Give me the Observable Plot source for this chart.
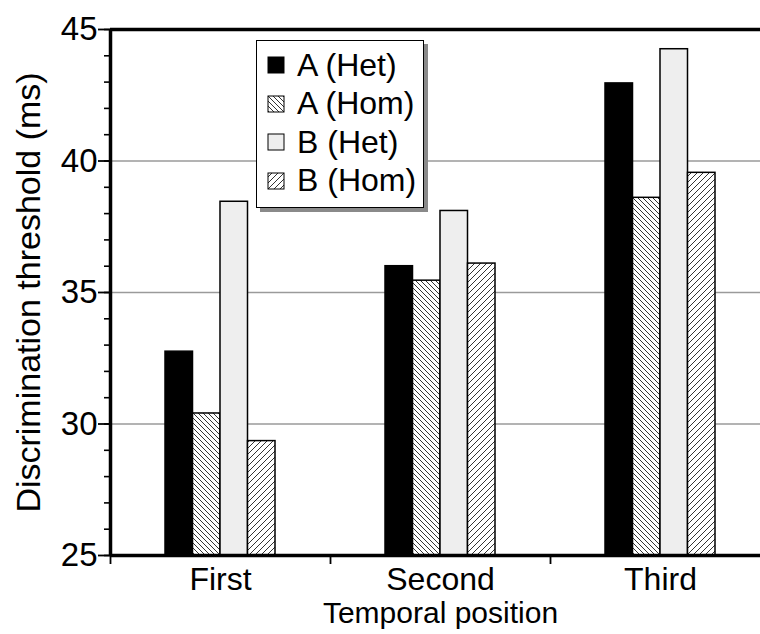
<!DOCTYPE html>
<html>
<head>
<meta charset="utf-8">
<script src="https://cdn.jsdelivr.net/npm/d3@7"></script>
<script src="https://cdn.jsdelivr.net/npm/@observablehq/plot@0.6"></script>
<style>
  html, body { margin: 0; padding: 0; background: white; }
  #wrap { position: relative; width: 760px; height: 634px; overflow: hidden; font-family: "Liberation Sans", Arial, Helvetica, sans-serif; }
  #legend {
    position: absolute; left: 256px; top: 40px; width: 168px; height: 168px;
    box-sizing: border-box; background: white; border: 1.5px solid black;
    box-shadow: 4px 4px 0 #8a8a8a; padding: 5px 0 0 10px;
  }
  .row { display: flex; align-items: center; height: 38.5px; font-size: 32px; color: black; white-space: nowrap; }
  .row svg { margin-right: 12px; flex: none; }
</style>
</head>
<body>
<svg width="0" height="0" style="position:absolute">
  <defs>
    <pattern id="hatchBack" patternUnits="userSpaceOnUse" width="5" height="5">
      <rect width="5" height="5" fill="white"/>
      <path d="M0,0 L5,5 M-1,4 L1,6 M4,-1 L6,1" stroke="black" stroke-width="0.8"/>
    </pattern>
    <pattern id="hatchFwd" patternUnits="userSpaceOnUse" width="6" height="6">
      <rect width="6" height="6" fill="white"/>
      <path d="M0,6 L6,0 M-1,1 L1,-1 M5,7 L7,5" stroke="black" stroke-width="0.8"/>
    </pattern>
  </defs>
</svg>
<div id="wrap">
  <div id="chart"></div>
  <div id="legend"></div>
</div>
<script>
// ---- data ----
const categories = ["First", "Second", "Third"];
const series = ["A (Het)", "A (Hom)", "B (Het)", "B (Hom)"];
const aHet = [32.75, 36.0, 42.95];
const aHom = [30.4, 35.45, 38.6];
const bHet = [38.45, 38.1, 44.25];
const bHom = [29.35, 36.1, 39.55];
const yMajorTicks = [25, 30, 35, 40, 45];
const yGrid = [30, 35, 40];
const yLabel = "Discrimination threshold (ms)";
const xLabel = "Temporal position";

// ---- styling ----
const fills = ["black", "url(#hatchBack)", "#eeeeee", "url(#hatchFwd)"];
const seriesValues = [aHet, aHom, bHet, bHom];
const yDomain = [25, 45];
const font = "'Liberation Sans', Arial, Helvetica, sans-serif";

const rows = series.map((s, si) => categories.map((c, ci) => ({series: s, si, cat: c, ci, value: seriesValues[si][ci]})));

const groupInset = 0.25, barW = 0.125;
const barMarks = rows.map((data, si) => Plot.rect(data, {
  x1: d => d.ci + groupInset + d.si * barW,
  x2: d => d.ci + groupInset + (d.si + 1) * barW,
  y1: () => yDomain[0],
  y2: "value",
  fill: fills[si],
  stroke: "black",
  strokeWidth: 1.5
}));

const plot = Plot.plot({
  width: 760,
  height: 634,
  marginLeft: 110,
  marginRight: 0,
  marginTop: 29,
  marginBottom: 79,
  style: {fontFamily: font, background: "white", color: "black"},
  x: {domain: [0, categories.length], range: [110, 770]},
  y: {domain: yDomain},
  marks: [
    Plot.ruleY(yGrid, {stroke: "#9a9a9a", strokeWidth: 1.3}),
    ...barMarks,
    Plot.axisY({ticks: d3.range(25, 46, 1), tickSize: 6, tickFormat: () => "", label: null, strokeWidth: 1.6}),
    Plot.axisY({ticks: yMajorTicks, tickSize: 12, tickPadding: 1, fontSize: 33, label: null, strokeWidth: 1.8}),
    Plot.axisX({ticks: d3.range(0, categories.length), tickSize: 9, tickFormat: () => "", label: null, strokeWidth: 1.8}),
    Plot.axisX({ticks: categories.map((c, i) => i + 0.5), tickSize: 0, tickPadding: 12, fontSize: 32, tickFormat: d => categories[Math.floor(d)], label: null}),
    Plot.ruleX([0], {strokeWidth: 3.5}),
    Plot.ruleY([yDomain[0]], {strokeWidth: 3.5}),
    Plot.ruleY([yDomain[1]], {strokeWidth: 3.5}),
    Plot.text([yLabel], {frameAnchor: "left", dx: -81, rotate: -90, fontSize: 34, textAnchor: "middle", lineAnchor: "middle", text: d => d}),
    Plot.text([xLabel], {x: () => categories.length / 2, frameAnchor: "bottom", dy: 58, fontSize: 30, textAnchor: "middle", lineAnchor: "middle", text: d => d})
  ]
});
document.getElementById("chart").appendChild(plot);

// legend
const legend = d3.select("#legend");
series.forEach((s, i) => {
  const row = legend.append("div").attr("class", "row");
  const sw = row.append("svg").attr("width", 18).attr("height", 18);
  sw.append("rect").attr("x", 1).attr("y", 1).attr("width", 16).attr("height", 16)
    .attr("fill", fills[i]).attr("stroke", "black").attr("stroke-width", 1);
  row.append("span").text(s);
});
</script>
</body>
</html>
